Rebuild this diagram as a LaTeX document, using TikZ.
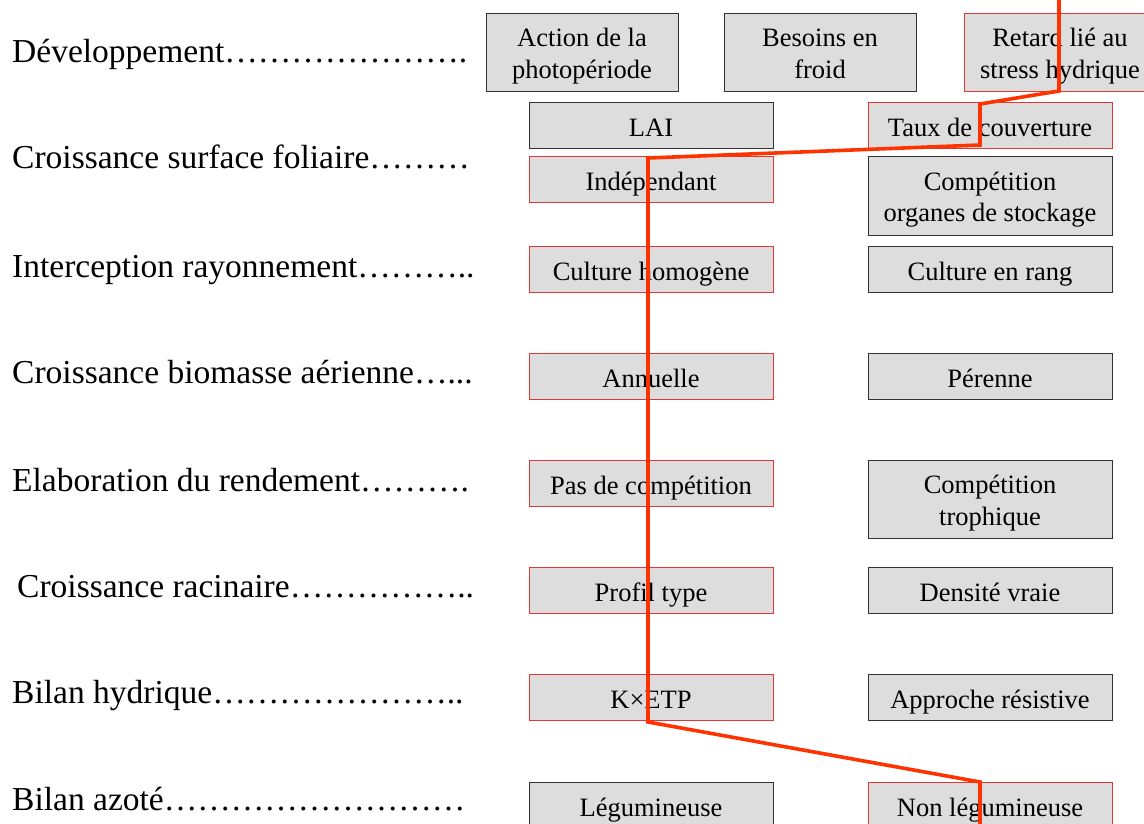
\documentclass[tikz,border=0pt]{standalone}
\usepackage{fontspec}
\setmainfont{Liberation Serif}
\definecolor{boxfill}{RGB}{221,221,221}
\definecolor{boxline}{RGB}{50,50,50}
\definecolor{boxred}{RGB}{225,55,55}
\definecolor{pathred}{RGB}{255,51,0}
\tikzset{
  lbl/.style={anchor=base west, inner sep=0pt, font=\fontsize{33.5}{40}\selectfont},
  cbox/.style={draw=boxline, fill=boxfill, line width=1pt, inner sep=0pt, align=center,
               font=\fontsize{26.5}{32}\selectfont},
  redbox/.style={draw=boxred},
  onebox/.style={minimum width=244pt, minimum height=46pt, text height=22pt, text depth=0pt},
  twobox/.style={minimum width=244pt, minimum height=78pt, text height=52pt, text depth=0pt},
  topbox/.style={minimum width=192pt, minimum height=78pt, text height=52pt, text depth=0pt},
  trail/.style={draw=pathred, line width=3.6pt, line join=miter}
}
\begin{document}
\begin{tikzpicture}[x=1pt,y=-1pt]
\useasboundingbox (0,0) rectangle (1144,824);
\clip (0,0) rectangle (1144,824);
\fill[white] (0,0) rectangle (1144,824);

% row labels
\node[lbl] (l1) at (12,63)  {Développement{…}{…}{…}{…}{…}{…}{…}.};
\node[lbl] (l2) at (12,168) {Croissance surface foliaire{…}{…}{…}};
\node[lbl] (l3) at (12,277) {Interception rayonnement{…}{…}{…}..};
\node[lbl] (l4) at (12,383) {Croissance biomasse aérienne{…}...};
\node[lbl] (l5) at (12,491) {Elaboration du rendement{…}{…}{…}.};
\node[lbl] (l6) at (17,597) {Croissance racinaire{…}{…}{…}{…}{…}..};
\node[lbl] (l7) at (12,703) {Bilan hydrique{…}{…}{…}{…}{…}{…}{…}..};
\node[lbl] (l8) at (12,810) {Bilan azoté{…}{…}{…}{…}{…}{…}{…}{…}{…}};

% row 1
\node[cbox,topbox] (act) at (582,53) {Action de la\\photopériode};
\node[cbox,topbox] (bes) at (820,53) {Besoins en\\froid};
\node[cbox,topbox,redbox] (ret) at (1060,53) {Retard lié au\\stress hydrique};
% row 2
\node[cbox,onebox] (lai) at (651,126) {LAI};
\node[cbox,onebox,redbox] (taux) at (990,126) {Taux de couverture};
\node[cbox,onebox,redbox] (ind) at (651,180) {Indépendant};
\node[cbox,twobox] (stock) at (990,196) {Compétition\\organes de stockage};
% row 3
\node[cbox,onebox,redbox] (hom) at (651,269) {Culture homogène};
\node[cbox,onebox] (rang) at (990,269) {Culture en rang};
% row 4
\node[cbox,onebox,redbox] (ann) at (651,376) {Annuelle};
\node[cbox,onebox] (per) at (990,376) {Pérenne};
% row 5
\node[cbox,onebox,redbox] (pas) at (651,483) {Pas de compétition};
\node[cbox,twobox] (troph) at (990,499) {Compétition\\trophique};
% row 6
\node[cbox,onebox,redbox] (prof) at (651,590) {Profil type};
\node[cbox,onebox] (dens) at (990,590) {Densité vraie};
% row 7
\node[cbox,onebox,redbox] (ketp) at (651,697) {K×ETP};
\node[cbox,onebox] (appr) at (990,697) {Approche résistive};
% row 8
\node[cbox,onebox] (leg) at (651,805) {Légumineuse};
\node[cbox,onebox,redbox] (nonleg) at (990,805) {Non légumineuse};

% the chosen path
\coordinate (p0) at (1059,-2);
\coordinate (p1) at (1059,91);
\coordinate (p2) at (980,104);
\coordinate (p3) at (980,145);
\coordinate (p4) at (648,158);
\coordinate (p5) at (648,722);
\coordinate (p6) at (980,782);
\coordinate (p7) at (980,830);
\draw[trail] (p0) -- (p1) -- (p2) -- (p3) -- (p4) -- (p5) -- (p6) -- (p7);
\end{tikzpicture}
\end{document}
